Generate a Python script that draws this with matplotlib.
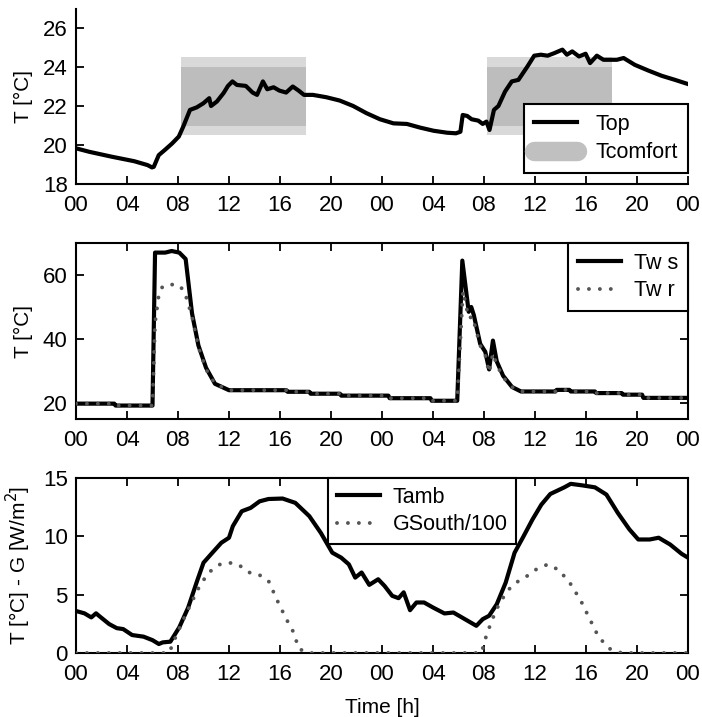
import matplotlib
matplotlib.use("Agg")
import matplotlib.pyplot as plt
from matplotlib.lines import Line2D
from matplotlib.patches import Rectangle
import numpy as np

plt.rcParams['font.family'] = ['Liberation Sans', 'DejaVu Sans']
plt.rcParams['font.size'] = 15

# ---------------- data ----------------
hours_ticks = list(range(0, 49, 4))
tick_labels = ["%02d" % (h % 24) for h in hours_ticks]

# comfort band (start/end hour of each day), outer and inner limits
comfort_days = [(8.2, 18.0), (32.25, 42.0)]
comfort_outer = (20.5, 24.5)
comfort_inner = (21.0, 24.0)

top_t = [0, 1.05, 2.8, 4.56, 5.61, 5.96, 6.1, 6.49, 7.01, 7.54, 8.06, 8.41, 8.94, 9.47, 9.99,
         10.45, 10.59, 11.05, 11.57, 11.92, 12.27, 12.62, 13.32, 13.85, 14.2, 14.66, 15.0, 15.5,
         15.95, 16.48, 17.0, 17.46, 17.88, 18.58, 19.63, 20.68, 21.74, 22.79, 23.84, 24.9, 25.95,
         27.0, 28.05, 29.1, 29.8, 30.15, 30.33, 30.68, 31.03, 31.55, 31.9, 32.19, 32.43, 32.78,
         33.13, 33.65, 34.18, 34.7, 35.41, 35.94, 36.46, 36.99, 37.51, 38.15, 38.5, 38.92, 39.45,
         39.97, 40.32, 40.85, 41.37, 42.42, 42.95, 43.83, 44.88, 45.93, 46.98, 47.93]
top_T = [19.83, 19.65, 19.4, 19.17, 18.97, 18.85, 18.88, 19.48, 19.77, 20.08, 20.43, 20.94, 21.8,
         21.93, 22.14, 22.4, 22.0, 22.23, 22.66, 23.03, 23.26, 23.08, 23.03, 22.69, 22.57, 23.26,
         22.86, 22.96, 22.79, 22.69, 23.0, 22.79, 22.57, 22.57, 22.45, 22.28, 22.0, 21.63, 21.32,
         21.11, 21.08, 20.89, 20.73, 20.63, 20.6, 20.68, 21.54, 21.49, 21.32, 21.25, 21.08, 21.2,
         20.77, 21.8, 22.0, 22.74, 23.26, 23.34, 24.03, 24.58, 24.63, 24.58, 24.71, 24.89, 24.63,
         24.8, 24.54, 24.68, 24.2, 24.58, 24.37, 24.37, 24.46, 24.11, 23.82, 23.55, 23.34, 23.14]

tws_t = [0, 3.0, 3.1, 6.0, 6.2, 7.0, 7.5, 8.1, 8.6, 9.1, 9.6, 10.2, 10.9, 12.0, 16.5, 16.6, 18.3,
         18.4, 20.7, 20.8, 24.5, 24.6, 27.8, 27.9, 29.9, 30.3, 30.8, 31.0, 31.2, 31.7, 32.1, 32.4,
         32.7, 33.0, 33.5, 34.2, 34.9, 37.6, 37.7, 38.7, 38.8, 40.7, 40.8, 42.8, 42.9, 44.4, 44.5, 48.0]
tws_T = [19.8, 19.8, 19.2, 19.2, 67.0, 67.0, 67.5, 67.0, 65.0, 48.0, 38.0, 31.0, 26.0, 24.0, 24.0,
         23.5, 23.5, 22.9, 22.9, 22.3, 22.3, 21.5, 21.5, 20.7, 20.7, 64.5, 48.5, 50.0, 47.5, 38.5,
         36.0, 30.5, 39.5, 33.0, 28.5, 25.0, 23.6, 23.6, 24.1, 24.1, 23.6, 23.6, 23.1, 23.1, 22.6,
         22.6, 21.6, 21.6]

twr_t = [0, 3.0, 3.1, 6.0, 6.2, 6.5, 6.8, 7.5, 8.0, 8.5, 9.1, 9.6, 10.2, 10.9, 12.0, 16.5, 16.6,
         18.3, 18.4, 20.7, 20.8, 24.5, 24.6, 27.8, 27.9, 29.9, 30.35, 30.8, 31.1, 31.7, 32.1, 32.4,
         32.7, 33.0, 33.5, 34.2, 34.9, 37.6, 37.7, 38.7, 38.8, 40.7, 40.8, 42.8, 42.9, 44.4, 44.5, 48.0]
twr_T = [19.8, 19.8, 19.2, 19.2, 45.0, 54.0, 56.5, 57.0, 57.0, 55.0, 47.0, 37.5, 30.5, 26.0, 24.0,
         24.0, 23.5, 23.5, 22.9, 22.9, 22.3, 22.3, 21.5, 21.5, 20.7, 20.7, 55.0, 46.5, 47.0, 38.0,
         35.0, 29.5, 35.5, 32.0, 28.0, 25.0, 23.6, 23.6, 24.1, 24.1, 23.6, 23.6, 23.1, 23.1, 22.6,
         22.6, 21.6, 21.6]

tamb_t = [0, 0.66, 1.2, 1.57, 1.9, 2.6, 3.2, 3.7, 4.4, 5.3, 6.0, 6.5, 6.8, 7.4, 8.1, 8.8, 9.5,
          10.0, 10.7, 11.4, 12.0, 12.3, 13.0, 13.7, 14.4, 15.1, 16.2, 17.2, 18.3, 19.2, 20.1, 20.8,
          21.4, 21.9, 22.4, 23.0, 23.7, 24.2, 24.8, 25.3, 25.7, 26.2, 26.7, 27.3, 28.0, 28.9, 29.6,
          30.5, 31.4, 31.9, 32.4, 33.0, 33.7, 34.4, 35.1, 35.8, 36.5, 37.2, 38.3, 38.8, 39.7, 40.7,
          41.6, 42.5, 43.4, 44.1, 45.0, 45.7, 46.6, 47.5, 48.0]
tamb_T = [3.6, 3.4, 3.05, 3.4, 3.1, 2.48, 2.13, 2.05, 1.54, 1.4, 1.1, 0.77, 0.91, 0.97, 2.2, 3.9,
          6.18, 7.74, 8.6, 9.45, 9.88, 10.87, 12.15, 12.44, 13.0, 13.2, 13.24, 12.87, 11.73, 10.3,
          8.6, 8.17, 7.6, 6.46, 6.9, 5.84, 6.32, 5.75, 4.9, 4.7, 5.2, 3.67, 4.33, 4.33, 3.9, 3.39,
          3.47, 2.9, 2.33, 2.9, 3.19, 4.18, 6.03, 8.6, 10.0, 11.44, 12.72, 13.63, 14.2, 14.5, 14.37,
          14.2, 13.58, 12.0, 10.6, 9.73, 9.73, 9.88, 9.3, 8.5, 8.17]

gs_t = [0, 7.3, 7.6, 7.9, 8.5, 9.0, 9.7, 10.4, 11.3, 12.0, 12.7, 13.6, 14.3, 15.1, 15.8, 16.5, 17.0,
        17.5, 18.3, 31.8, 32.1, 32.6, 33.1, 33.8, 34.5, 35.2, 36.1, 37.0, 37.9, 38.8, 39.6, 40.3,
        41.0, 41.9, 42.8, 48.0]
gs_v = [0, 0, 0.8, 1.6, 3.05, 4.2, 5.75, 6.9, 7.6, 7.74, 7.6, 6.9, 6.75, 6.18, 4.47, 2.9, 1.9,
        0.34, 0.0, 0.0, 1.2, 2.76, 4.0, 5.3, 6.03, 6.46, 7.17, 7.6, 7.1, 5.9, 4.47, 2.9, 1.34, 0.34,
        0.0, 0.0]

# ---------------- figure ----------------
W, H = 702, 717
fig = plt.figure(figsize=(W / 100, H / 100), dpi=100)

def ax_rect(top_px, bottom_px, left_px=76, right_px=688):
    return [left_px / W, 1 - bottom_px / H, (right_px - left_px) / W, (bottom_px - top_px) / H]

ax1 = fig.add_axes(ax_rect(8.5, 184))
ax2 = fig.add_axes(ax_rect(243, 419))
ax3 = fig.add_axes(ax_rect(478, 653))

solid_kw = dict(color='black', lw=3.0, solid_joinstyle='round')
dot_kw = dict(color='#555555', lw=2.8, linestyle=(0, (0.01, 2.8)), dash_capstyle='round')

light_col = '#d9d9d9'
dark_col = '#bdbdbd'

leg_common = dict(borderaxespad=0, fancybox=False, framealpha=1, edgecolor='black',
                  handlelength=2.0, fontsize=15.5)

# top panel
for (a, b) in comfort_days:
    ax1.add_patch(Rectangle((a, comfort_outer[0]), b - a, comfort_outer[1] - comfort_outer[0],
                            facecolor=light_col, edgecolor='none', zorder=1))
    ax1.add_patch(Rectangle((a, comfort_inner[0]), b - a, comfort_inner[1] - comfort_inner[0],
                            facecolor=dark_col, edgecolor='none', zorder=1))
ax1.plot(top_t, top_T, zorder=3, **solid_kw)
ax1.set_ylim(18, 27)
ax1.set_yticks([18, 20, 22, 24, 26])
ax1.spines['top'].set_visible(False)
ax1.spines['right'].set_visible(False)
ax1.set_ylabel("T [°C]")
h_top = Line2D([], [], color='black', lw=3.0)
h_comf = Line2D([], [], color='#c0c0c0', lw=14, solid_capstyle='round')
leg1 = ax1.legend([h_top, h_comf], ["Top", "Tcomfort"], loc='lower right',
                  bbox_to_anchor=(1.0, 0.063), labelspacing=0.35, borderpad=0.45,
                  handletextpad=0.9, **leg_common)
leg1.get_frame().set_linewidth(1.5)

# middle panel
ax2.plot(tws_t, tws_T, zorder=3, **solid_kw)
ax2.plot(twr_t, twr_T, zorder=4, **dot_kw)
ax2.set_ylim(15, 70)
ax2.set_yticks([20, 40, 60])
ax2.set_ylabel("T [°C]")
h_tws = Line2D([], [], color='black', lw=3.0)
h_twr = Line2D([], [], **dot_kw)
leg2 = ax2.legend([h_tws, h_twr], ["Tw s", "Tw r"], loc='upper right',
                  bbox_to_anchor=(1.0, 1.0), labelspacing=0.3, borderpad=0.45,
                  handletextpad=0.6, **leg_common)
leg2.get_frame().set_linewidth(1.5)

# bottom panel
ax3.plot(tamb_t, tamb_T, zorder=3, **solid_kw)
ax3.plot(gs_t, gs_v, zorder=4, **dot_kw)
ax3.set_ylim(0, 15)
ax3.set_yticks([0, 5, 10, 15])
ax3.set_ylabel("T [°C] - G [W/m$^2$]")
ax3.set_xlabel("Time [h]", labelpad=9)
h_tamb = Line2D([], [], color='black', lw=3.0)
h_gs = Line2D([], [], **dot_kw)
leg3 = ax3.legend([h_tamb, h_gs], ["Tamb", "GSouth/100"], loc='upper center',
                  bbox_to_anchor=(0.566, 1.0), labelspacing=0.3, borderpad=0.4,
                  handletextpad=0.6, **leg_common)
leg3.get_frame().set_linewidth(1.5)

for ax in (ax1, ax2, ax3):
    ax.set_xlim(0, 48)
    ax.set_xticks(hours_ticks)
    ax.set_xticklabels(tick_labels)
    for s in ax.spines.values():
        s.set_linewidth(1.5)
    ax.tick_params(direction='in', length=6, width=1.3, labelsize=16)
    ax.tick_params(axis='x', pad=8)
    ax.tick_params(axis='y', pad=6)
    ax.yaxis.set_label_coords(-0.07, 0.5)

for ax in (ax2, ax3):
    ax.tick_params(top=True, right=True)

fig.savefig("out.png", dpi=100)
